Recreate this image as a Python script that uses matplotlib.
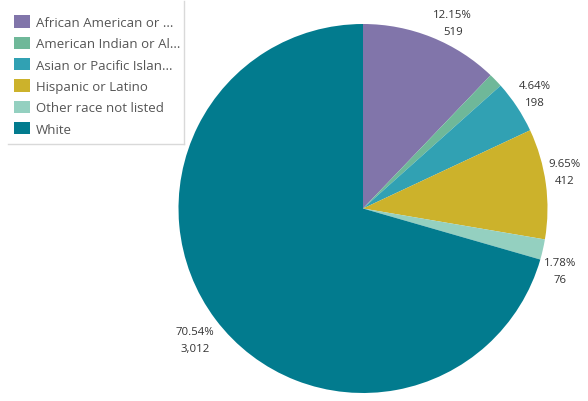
import matplotlib.pyplot as plt
import numpy as np
from matplotlib.lines import Line2D

plt.rcParams["font.family"] = ["Open Sans", "DejaVu Sans"]

labels = ["African American or ...", "American Indian or Al...", "Asian or Pacific Islan...",
          "Hispanic or Latino", "Other race not listed", "White"]
counts = [519, 53, 198, 412, 76, 3012]
pcts = [12.15, 1.24, 4.64, 9.65, 1.78, 70.54]
colors = ["#8175AA", "#6FB899", "#31A1B3", "#CCB22B", "#94D0C0", "#027B8E"]
# slices that get a text label (American Indian is too small)
show_label = [True, False, True, True, True, True]
# small nudges of the label angle (deg) and distance, like Tableau spreads them
nudge = [3.7, 0, -0.8, -3.2, 4.0, -0.7]
dist = [1.127, 1.12, 1.124, 1.112, 1.118, 1.148]

W, H = 588, 402
fig = plt.figure(figsize=(W / 100, H / 100), dpi=100)

# pie centre (363, 209.5) px, radius 184.5 px
cx, cy, r = 363, 209.5, 184.5
ax = fig.add_axes([(cx - r) / W, (H - cy - r) / H, 2 * r / W, 2 * r / H])
wedges, _ = ax.pie(counts, colors=colors, startangle=90, counterclock=False,
                   radius=1, wedgeprops=dict(linewidth=0))
ax.set_xlim(-1, 1)
ax.set_ylim(-1, 1)
ax.axis("off")

total = sum(counts)
cum = 0
for i, (c, p, show) in enumerate(zip(counts, pcts, show_label)):
    mid = (cum + c / 2) / total
    cum += c
    if not show:
        continue
    ang = np.deg2rad(90 - 360 * mid - nudge[i])
    x, y = dist[i] * np.cos(ang), dist[i] * np.sin(ang) - 0.013
    ax.text(x, y + 0.046, f"{p:.2f}%", ha="center", va="center", fontsize=8.2, color="#333333")
    ax.text(x, y - 0.046, f"{c:,}", ha="center", va="center", fontsize=8.2, color="#333333")

handles = [plt.Rectangle((0, 0), 1, 1, facecolor=col, edgecolor="none") for col in colors]
leg = fig.legend(handles, labels, loc="upper left", bbox_to_anchor=(10 / W, 1 - 12.5 / H),
                 frameon=False, fontsize=9.5, labelcolor="#555555",
                 handlelength=1.21, handleheight=1.06, handletextpad=0.45,
                 labelspacing=0.58, borderpad=0.3, borderaxespad=0)

# light border on the right and bottom of the legend box
fig.add_artist(Line2D([184 / W, 184 / W], [1 - 2 / H, 1 - 145 / H], color="#d9d9d9", lw=1))
fig.add_artist(Line2D([8 / W, 184 / W], [1 - 145 / H, 1 - 145 / H], color="#d9d9d9", lw=1))

fig.savefig("out.png", dpi=100)
